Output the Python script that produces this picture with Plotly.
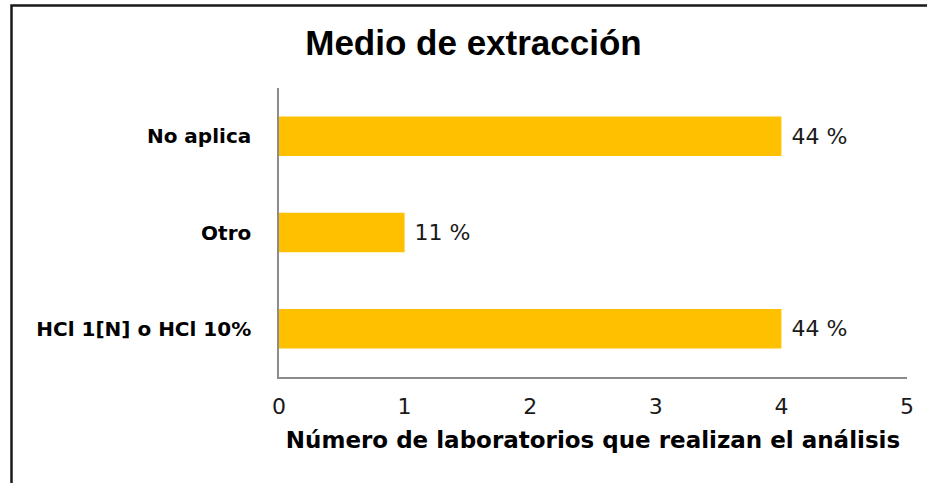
import plotly.graph_objects as go

# Extraction medium reported by the laboratories
categories = ["HCl 1[N] o HCl 10%", "Otro", "No aplica"]
counts = [4, 1, 4]
pct_labels = ["44 %", "11 %", "44 %"]
x_ticks = [0, 1, 2, 3, 4, 5]

W, H = 927, 483
L, R, T, B = 279, 20, 88, 106
pw, ph = W - L - R, H - T - B

def px_to_paper_x(px):
    return (px - L) / pw

def px_to_paper_y(py):
    return (H - B - py) / ph

fig = go.Figure()
fig.add_trace(go.Bar(
    y=categories,
    x=counts,
    orientation="h",
    marker=dict(color="#FFC000", line=dict(width=0)),
    width=0.41,
    text=["\u00a0" + t for t in pct_labels],
    textposition="outside",
    constraintext="none",
    textfont=dict(family="DejaVu Sans", size=22, color="#1a1a1a"),
    cliponaxis=False,
))

fig.update_layout(
    width=W, height=H,
    margin=dict(l=L, r=R, t=T, b=B),
    paper_bgcolor="white",
    plot_bgcolor="white",
    showlegend=False,
    font=dict(family="Liberation Sans, Arial", color="#000000"),
    title=dict(
        text="<b>Medio de extracción</b>",
        x=(305 + 642) / 2 / W, xanchor="center",
        y=1 - 43 / H, yanchor="middle",
        font=dict(size=35, color="#000000"),
    ),
    xaxis=dict(
        range=[0, 5],
        tickvals=x_ticks,
        showgrid=False,
        zeroline=False,
        showline=True, linecolor="#8c8c8c", linewidth=1.5,
        ticks="", ticklen=0,
        ticklabelstandoff=9,
        tickfont=dict(family="DejaVu Sans", size=22, color="#1a1a1a"),
        title=dict(text="<b>Número de laboratorios que realizan el análisis</b>",
                   font=dict(family="DejaVu Sans", size=23, color="#000000"),
                   standoff=14),
    ),
    yaxis=dict(
        showgrid=False,
        zeroline=False,
        showline=True, linecolor="#8c8c8c", linewidth=1.5,
        ticks="", ticklen=0,
        tickfont=dict(family="DejaVu Sans", size=20, color="#000000"),
        ticklabelstandoff=22,
        tickprefix="<b>", ticksuffix="</b>",
    ),
    bargap=0.59,
)

# Outer frame of the chart
fig.add_shape(
    type="rect", xref="paper", yref="paper",
    x0=px_to_paper_x(11.5), x1=px_to_paper_x(940),
    y0=px_to_paper_y(495), y1=px_to_paper_y(5.5),
    line=dict(color="#1a1a1a", width=2.5),
    fillcolor="rgba(0,0,0,0)",
    layer="below",
)

fig.write_html("out.html")
